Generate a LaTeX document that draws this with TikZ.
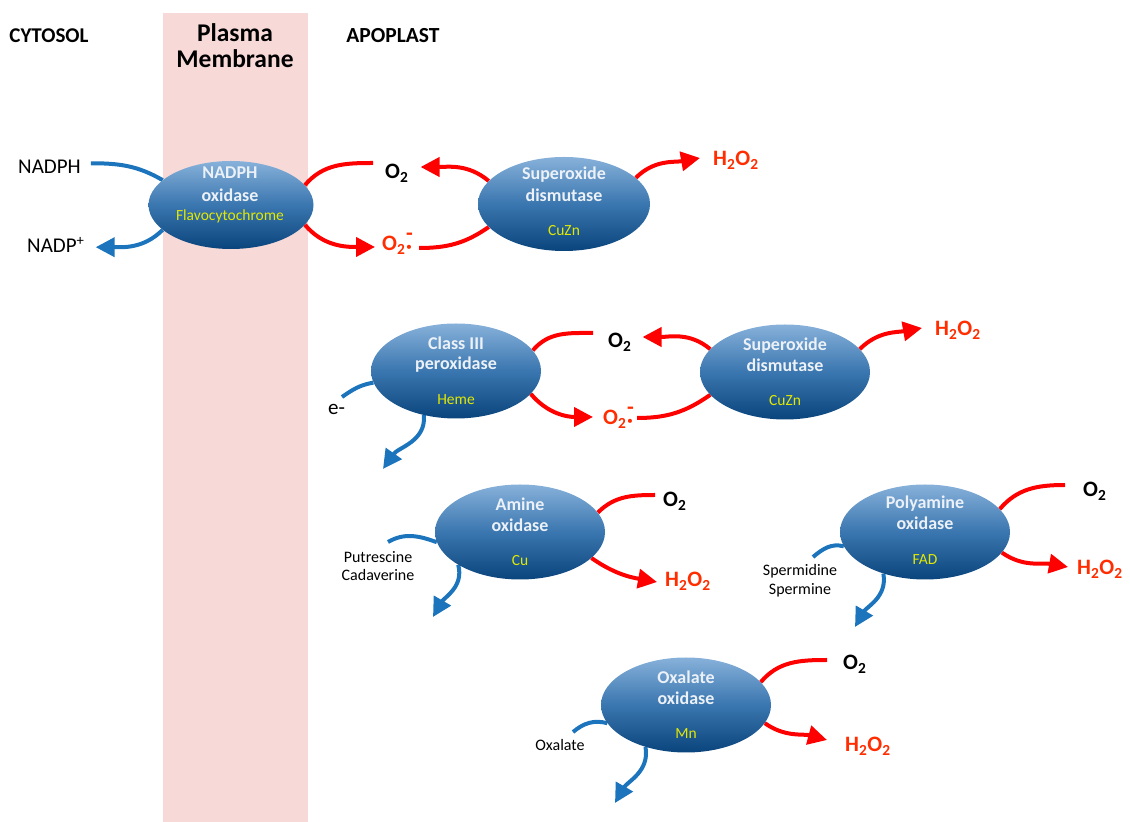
\documentclass[tikz,border=0pt]{standalone}
\usepackage{fontspec}
\setmainfont{Carlito}
\usetikzlibrary{arrows.meta,shapes.geometric}
\pgfdeclarelayer{bg}
\pgfdeclarelayer{conn}
\pgfsetlayers{bg,conn,main}
\definecolor{band}{RGB}{247,218,216}
\definecolor{ellTop}{RGB}{135,177,218}
\definecolor{ellMid}{RGB}{58,118,175}
\definecolor{ellBot}{RGB}{10,68,124}
\definecolor{enzTxt}{RGB}{236,241,247}
\definecolor{cofTxt}{RGB}{226,232,0}
\definecolor{rline}{RGB}{255,0,0}
\definecolor{rtxt}{RGB}{255,45,0}
\definecolor{bline}{RGB}{28,117,188}
\newcommand{\superoxide}{O\textsubscript{2}\kern0.03em\rlap{\raisebox{0.46em}{-}}\raisebox{-0.12em}{·}}
\newcommand{\hoh}{H\textsubscript{2}O\textsubscript{2}}
\newcommand{\oxy}{O\textsubscript{2}}
\tikzset{
  enz/.style={ellipse, minimum width=170pt, minimum height=95pt, inner sep=0pt,
    top color=ellTop, bottom color=ellBot, middle color=ellMid, draw=none},
  ename/.style={anchor=base, text=enzTxt, font=\fontsize{18}{20}\selectfont\bfseries, inner sep=0pt},
  cof/.style={anchor=base, text=cofTxt, font=\fontsize{15.5}{18}\selectfont, inner sep=0pt},
  mol/.style={anchor=base west, inner sep=0pt, font=\fontsize{22}{24}\selectfont\bfseries},
  ros/.style={mol, text=rtxt},
  lbl/.style={anchor=base west, inner sep=0pt, font=\fontsize{21}{24}\selectfont},
  subst/.style={anchor=base, inner sep=0pt, font=\fontsize{16}{18}\selectfont},
  hdr/.style={anchor=base, inner sep=0pt, font=\fontsize{21}{24}\selectfont\bfseries},
  rlin/.style={draw=rline, line width=4pt},
  rarr/.style={rlin, -{Triangle[length=19pt,width=19pt]}},
  blin/.style={draw=bline, line width=4pt},
  barr/.style={blin, -{Triangle[length=19pt,width=19pt]}}
}
\begin{document}
\begin{tikzpicture}[x=1pt,y=1pt]
\useasboundingbox (0,0) rectangle (1130,822);
\begin{pgfonlayer}{bg}
\fill[band] (163,0) rectangle (308,809);
\end{pgfonlayer}
% headers
\node[hdr] (cyto) at (49,779) {CYTOSOL};
\node[hdr, font=\fontsize{21.5}{24}\selectfont\bfseries] (apo) at (393,779) {APOPLAST};
\node[inner sep=0pt, align=center, font=\fontsize{25.5}{26}\selectfont\bfseries] (pm) at (235,776) {Plasma\\Membrane};
% enzymes
\node[enz, minimum width=165pt, minimum height=88pt] (nox) at (231,617) {};
\node[enz, minimum width=172pt, minimum height=94pt] (sod1) at (564,618) {};
\node[enz] (cls) at (456,451) {};
\node[enz] (sod2) at (785,450) {};
\node[enz] (amo) at (520,290) {};
\node[enz] (pao) at (925,290) {};
\node[enz] (oxo) at (686,117) {};
% enzyme labels
\node[ename] (noxA) at (230,643.7) {NADPH};
\node[ename] (noxB) at (230,620.3) {oxidase};
\node[cof] (noxC) at (230,601.3) {Flavocytochrome};
\node[ename] (sod1A) at (564,642) {Superoxide};
\node[ename] (sod1B) at (564,620.3) {dismutase};
\node[cof] (sod1C) at (564,586) {CuZn};
\node[ename] (clsA) at (456,472.7) {Class III};
\node[ename] (clsB) at (456,452) {peroxidase};
\node[cof] (clsC) at (456,417.7) {Heme};
\node[ename] (sod2A) at (785,471.3) {Superoxide};
\node[ename] (sod2B) at (785,450.3) {dismutase};
\node[cof] (sod2C) at (785,416) {CuZn};
\node[ename] (amoA) at (520,311) {Amine};
\node[ename] (amoB) at (520,290.3) {oxidase};
\node[cof] (amoC) at (520,256.3) {Cu};
\node[ename] (paoA) at (925,313) {Polyamine};
\node[ename] (paoB) at (925,292) {oxidase};
\node[cof] (paoC) at (925,257.7) {FAD};
\node[ename] (oxoA) at (686,138.7) {Oxalate};
\node[ename] (oxoB) at (686,117.7) {oxidase};
\node[cof] (oxoC) at (686,83) {Mn};
% outer labels
\node[lbl] (nadph) at (18,648) {NADPH};
\node[lbl] (nadp) at (27,569) {NADP\textsuperscript{+}};
\node[lbl] (elec) at (328,407) {e-};
\node[mol] (o2a) at (385,643) {\oxy};
\node[ros] (supa) at (382,571) {\superoxide};
\node[ros] (h1) at (713,656) {\hoh};
\node[mol] (o2b) at (608,474) {\oxy};
\node[ros] (supb) at (603,397) {\superoxide};
\node[ros] (h2) at (935,486) {\hoh};
\node[mol] (amoO) at (663,315) {\oxy};
\node[ros] (amoH) at (665,235) {\hoh};
\node[mol] (paoO) at (1083,325) {\oxy};
\node[ros] (paoH) at (1077,247) {\hoh};
\node[mol] (oxoO) at (843,152) {\oxy};
\node[ros] (oxoH) at (845,70) {\hoh};
\node[subst] (put) at (378,259) {Putrescine};
\node[subst] (cad) at (378,241) {Cadaverine};
\node[subst] (spd) at (800,246) {Spermidine};
\node[subst] (spm) at (800,227) {Spermine};
\node[subst] (oxa) at (560,71) {Oxalate};
% free ends
\coordinate (ein) at (342,425);
\coordinate (clsTip) at (383,353);
\coordinate (amoIn) at (388,280);
\coordinate (amoTip) at (433,205);
\coordinate (paoIn) at (813,265);
\coordinate (paoTip) at (855,195);
\coordinate (oxoIn) at (573,90);
\coordinate (oxoTip) at (615,19);
\begin{pgfonlayer}{conn}
% NADPH oxidase
\draw[blin] ([shift={(10pt,4pt)}]nadph.east) to[out=0,in=150] (nox.160);
\draw[barr] (nox.200) to[out=225,in=0] ([shift={(11pt,-2pt)}]nadp.east);
\draw[rlin] (nox.15) to[out=50,in=180] ([shift={(-12pt,16pt)}]o2a.base west);
\draw[rarr] (sod1.163) to[out=140,in=0] ([shift={(12pt,12pt)}]o2a.base east);
\draw[rarr] (nox.-15) to[out=-50,in=180] ([shift={(-7pt,4pt)}]supa.base west);
\draw[rlin] ([shift={(7pt,3pt)}]supa.base east) to[out=0,in=-145] (sod1.-163);
\draw[rarr] (sod1.20) to[out=45,in=190] ([shift={(-13pt,8pt)}]h1.base west);
% class III loop
\draw[rlin] (cls.15) to[out=50,in=180] ([shift={(-15pt,15pt)}]o2b.base west);
\draw[rarr] (sod2.163) to[out=140,in=0] ([shift={(11pt,11pt)}]o2b.base east);
\draw[rarr] (cls.-17) to[out=-50,in=180] ([shift={(-10pt,8pt)}]supb.base west);
\draw[rlin] ([shift={(4pt,7pt)}]supb.base east) to[out=0,in=-145] (sod2.-163);
\draw[rarr] (sod2.17) to[out=45,in=190] ([shift={(-13pt,8pt)}]h2.base west);
\draw[blin] (ein) to[out=35,in=190] (cls.188);
\draw[barr] (cls.234) to[out=-85,in=55] (clsTip);
% amine oxidase
\draw[blin] (amoIn) to[out=30,in=160] (amo.187);
\draw[barr] (amo.208) to[out=-75,in=60] (amoTip);
\draw[rlin] (amo.14) to[out=45,in=180] ([shift={(-8pt,12pt)}]amoO.base west);
\draw[rarr] (amo.-20) to[out=-35,in=170] ([shift={(-8pt,5pt)}]amoH.base west);
% polyamine oxidase
\draw[blin] (paoIn) to[out=40,in=165] (pao.190);
\draw[barr] (pao.225) to[out=-80,in=60] (paoTip);
\draw[rlin] (pao.17) to[out=50,in=180] ([shift={(-18pt,12pt)}]paoO.base west);
\draw[rarr] (pao.-15) to[out=-35,in=170] ([shift={(-9pt,8pt)}]paoH.base west);
% oxalate oxidase
\draw[blin] (oxoIn) to[out=40,in=165] (oxo.193);
\draw[barr] (oxo.226) to[out=-80,in=60] (oxoTip);
\draw[rlin] (oxo.17) to[out=50,in=180] ([shift={(-16pt,10pt)}]oxoO.base west);
\draw[rarr] (oxo.-13) to[out=-35,in=165] ([shift={(-18pt,12pt)}]oxoH.base west);
\end{pgfonlayer}
\end{tikzpicture}
\end{document}
